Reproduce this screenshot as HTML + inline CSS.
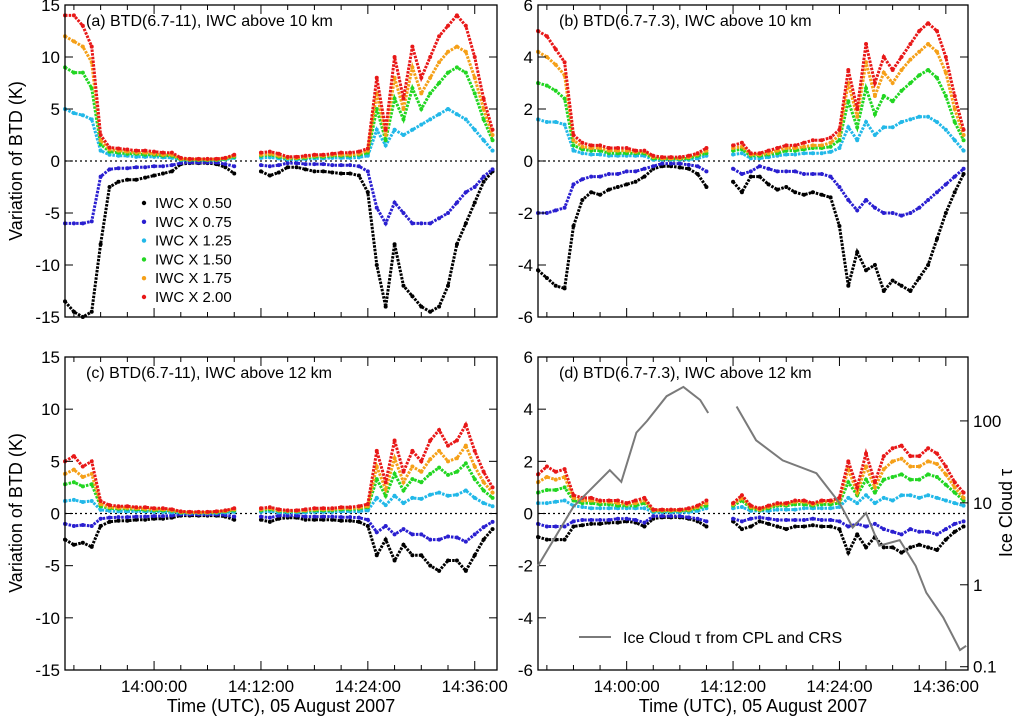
<!DOCTYPE html>
<html><head><meta charset="utf-8"><style>
body{margin:0;background:#fff;}
svg{display:block;font-family:"Liberation Sans",sans-serif;}
</style></head><body>
<svg id="fig" width="1024" height="720"></svg>
<script>
// time in minutes after 13:50 UTC
const timesSeg1=[0,1,2,3,4,5,6,7,8,9,10,11,12,13,14,15,16,17,18,19];
const timesSeg2=[22,23,24,25,26,27,28,29,30,31,32,33,34,35,36,37,38,39,40,41,42,43,44,45,46,47,48];
const seriesNames=["IWC X 0.50","IWC X 0.75","IWC X 1.25","IWC X 1.50","IWC X 1.75","IWC X 2.00"];
const a_black=[-13.5,-14.5,-15,-14.5,-8,-2.5,-2,-1.8,-1.8,-1.6,-1.4,-1.2,-1.0,-0.3,-0.2,-0.2,-0.2,-0.3,-0.6,-1.2,-1.0,-1.4,-1.1,-0.6,-0.6,-0.8,-1.0,-1.0,-1.1,-1.2,-1.2,-1.4,-3,-10,-14,-8,-12,-13,-14,-14.5,-14,-12,-8,-6,-4,-2,-1];
const a_blue=[-6,-6,-6,-5.8,-1.5,-0.8,-0.7,-0.7,-0.6,-0.6,-0.5,-0.5,-0.4,-0.2,-0.15,-0.15,-0.15,-0.15,-0.3,-0.5,-0.4,-0.5,-0.4,-0.2,-0.2,-0.3,-0.3,-0.3,-0.4,-0.4,-0.4,-0.5,-1,-4.5,-6,-4,-5,-6,-6,-6,-5.5,-5,-4,-3,-2.5,-1.5,-0.8];
const a_cyan=[5,4.6,4.4,4,1,0.6,0.5,0.5,0.4,0.4,0.4,0.35,0.3,0.1,0.1,0.1,0.1,0.1,0.15,0.3,0.3,0.35,0.25,0.15,0.15,0.2,0.25,0.25,0.3,0.3,0.3,0.35,0.5,3,1.5,3,2.5,3,3.5,4,4.5,5,4.5,4,3,2,1];
const a_green=[9,8.5,8.5,7,1.6,0.9,0.8,0.7,0.7,0.6,0.6,0.5,0.5,0.15,0.1,0.1,0.1,0.1,0.2,0.4,0.5,0.6,0.4,0.25,0.25,0.3,0.4,0.4,0.5,0.5,0.5,0.6,0.8,5,2,6,4,7,5,6.5,7.5,8.5,9,8.5,6.5,4,2];
const a_orange=[12,11.5,11,9.5,2,1.1,1.0,0.9,0.8,0.8,0.7,0.6,0.6,0.2,0.15,0.15,0.15,0.15,0.25,0.5,0.6,0.7,0.5,0.3,0.3,0.4,0.5,0.5,0.6,0.6,0.6,0.7,1.0,6.5,2.5,8,5,9,6.5,8,9.5,10.5,11,10.5,8,5,2.5];
const a_red=[14,14,13,11,2.5,1.3,1.2,1.1,1.0,1.0,0.9,0.8,0.8,0.3,0.2,0.2,0.2,0.2,0.3,0.6,0.8,0.9,0.7,0.4,0.4,0.5,0.6,0.6,0.7,0.8,0.8,0.9,1.2,8,3,10,6,11,8,10,12,13,14,13,10,6,3];
const b_black=[-4.2,-4.5,-4.8,-4.9,-2.5,-1.5,-1.2,-1.3,-1.1,-1.0,-0.9,-0.8,-0.6,-0.3,-0.2,-0.2,-0.25,-0.3,-0.5,-1.0,-0.8,-1.2,-0.6,-0.6,-0.9,-1.1,-1.0,-1.2,-1.3,-1.2,-1.3,-1.4,-2.5,-4.8,-3.5,-4.2,-4,-5,-4.6,-4.8,-5,-4.5,-4,-3,-2,-1.2,-0.5];
const b_blue=[-2,-2,-1.9,-1.8,-0.9,-0.7,-0.6,-0.6,-0.5,-0.5,-0.4,-0.4,-0.3,-0.2,-0.1,-0.1,-0.1,-0.15,-0.2,-0.4,-0.3,-0.5,-0.4,-0.2,-0.3,-0.4,-0.4,-0.4,-0.5,-0.5,-0.5,-0.6,-1,-1.5,-1.9,-1.5,-1.8,-2,-2,-2.1,-2,-1.8,-1.5,-1.2,-0.9,-0.6,-0.3];
const b_cyan=[1.6,1.5,1.5,1.4,0.4,0.3,0.25,0.25,0.2,0.2,0.2,0.2,0.2,0.05,0.05,0.05,0.05,0.05,0.1,0.2,0.25,0.3,0.1,0.1,0.15,0.2,0.25,0.25,0.3,0.3,0.3,0.35,0.5,1.3,0.8,1.5,1,1.3,1.3,1.5,1.6,1.7,1.7,1.5,1.2,0.8,0.4];
const b_green=[3,2.9,2.7,2.4,0.6,0.45,0.4,0.4,0.3,0.3,0.3,0.3,0.3,0.1,0.08,0.08,0.08,0.1,0.2,0.3,0.4,0.45,0.2,0.2,0.25,0.3,0.4,0.4,0.45,0.5,0.5,0.55,0.8,2.3,1.3,2.8,1.8,2.5,2.3,2.7,3,3.3,3.5,3.2,2.5,1.5,0.8];
const b_orange=[4.2,4,3.7,3.3,0.8,0.55,0.5,0.5,0.4,0.4,0.4,0.35,0.35,0.15,0.1,0.1,0.1,0.15,0.25,0.4,0.5,0.55,0.25,0.25,0.3,0.4,0.5,0.5,0.55,0.6,0.6,0.7,1.0,3,1.7,3.8,2.5,3.4,3,3.5,3.9,4.2,4.5,4.2,3.4,2,1];
const b_red=[5,4.8,4.3,3.8,1.0,0.7,0.6,0.6,0.5,0.5,0.5,0.4,0.4,0.2,0.15,0.15,0.15,0.2,0.3,0.5,0.6,0.7,0.3,0.3,0.4,0.5,0.6,0.6,0.7,0.8,0.8,0.9,1.2,3.5,2,4.5,3,4,3.5,4,4.5,5,5.3,5,4,2.5,1.2];
const c_black=[-2.5,-3,-2.8,-3.2,-1.2,-0.8,-0.7,-0.7,-0.6,-0.6,-0.5,-0.5,-0.4,-0.2,-0.2,-0.2,-0.2,-0.2,-0.3,-0.6,-0.6,-0.8,-0.5,-0.4,-0.4,-0.6,-0.6,-0.6,-0.6,-0.7,-0.7,-0.8,-1.2,-4,-2.5,-4.5,-3,-4,-4,-5,-5.5,-4.5,-4.5,-5.5,-4,-2.5,-1.5];
const c_blue=[-1,-1.2,-1.1,-1.2,-0.5,-0.4,-0.35,-0.35,-0.3,-0.3,-0.25,-0.25,-0.2,-0.1,-0.1,-0.1,-0.1,-0.1,-0.15,-0.3,-0.3,-0.4,-0.2,-0.2,-0.2,-0.3,-0.3,-0.3,-0.3,-0.35,-0.35,-0.4,-0.6,-1.8,-1.2,-2,-1.5,-2,-2,-2.5,-2.5,-2.2,-2.3,-2.7,-2,-1.3,-0.8];
const c_cyan=[1.2,1.3,1.1,1.2,0.35,0.25,0.2,0.2,0.2,0.2,0.15,0.15,0.1,0.05,0.05,0.05,0.05,0.05,0.1,0.15,0.15,0.2,0.1,0.1,0.1,0.1,0.15,0.15,0.15,0.2,0.2,0.2,0.3,1.5,0.8,1.7,1,1.5,1.4,1.8,2,1.7,1.8,2.2,1.5,1,0.7];
const c_green=[2.8,3,2.6,2.8,0.7,0.5,0.45,0.45,0.4,0.35,0.3,0.3,0.25,0.1,0.08,0.08,0.08,0.1,0.2,0.3,0.3,0.4,0.25,0.2,0.2,0.25,0.3,0.3,0.3,0.4,0.4,0.45,0.6,3.3,1.7,3.8,2.2,3.3,3,3.8,4.4,3.7,4,4.8,3.3,2.2,1.5];
const c_orange=[3.8,4.2,3.5,3.8,0.9,0.6,0.55,0.55,0.5,0.45,0.4,0.4,0.3,0.15,0.1,0.1,0.1,0.15,0.25,0.4,0.4,0.5,0.3,0.25,0.25,0.3,0.4,0.4,0.4,0.5,0.5,0.55,0.7,4.5,2.3,5.3,3,4.5,4,5.2,6,5,5.3,6.5,4.5,3,2];
const c_red=[5,5.5,4.5,5,1.2,0.8,0.7,0.7,0.6,0.6,0.5,0.5,0.4,0.2,0.15,0.15,0.15,0.2,0.3,0.5,0.5,0.6,0.4,0.3,0.3,0.4,0.5,0.5,0.5,0.6,0.6,0.7,0.9,6,3,7,4,6,5,7,8,6.5,7,8.5,6,4,2.5];
const d_black=[-0.9,-1.0,-1.0,-1.0,-0.5,-0.45,-0.4,-0.4,-0.35,-0.35,-0.3,-0.35,-0.5,-0.2,-0.15,-0.15,-0.15,-0.2,-0.3,-0.5,-0.3,-0.6,-0.5,-0.3,-0.4,-0.5,-0.6,-0.5,-0.5,-0.45,-0.5,-0.5,-0.6,-1.5,-0.8,-1.3,-0.9,-1.3,-1.3,-1.5,-1.3,-1.2,-1.3,-1.4,-1.0,-0.7,-0.5];
const d_blue=[-0.4,-0.5,-0.5,-0.5,-0.3,-0.25,-0.25,-0.25,-0.25,-0.2,-0.2,-0.25,-0.35,-0.1,-0.1,-0.1,-0.1,-0.15,-0.2,-0.3,-0.2,-0.3,-0.2,-0.15,-0.2,-0.25,-0.25,-0.25,-0.25,-0.2,-0.25,-0.25,-0.3,-0.5,-0.4,-0.5,-0.4,-0.6,-0.7,-0.8,-0.6,-0.7,-0.7,-0.8,-0.6,-0.4,-0.3];
const d_cyan=[0.4,0.4,0.45,0.5,0.3,0.25,0.2,0.2,0.2,0.2,0.2,0.2,0.2,0.05,0.05,0.05,0.05,0.05,0.1,0.2,0.2,0.25,0.1,0.1,0.1,0.15,0.15,0.15,0.2,0.2,0.2,0.2,0.25,0.6,0.4,0.7,0.4,0.6,0.5,0.7,0.7,0.6,0.7,0.6,0.5,0.4,0.3];
const d_green=[0.8,0.9,0.9,1,0.5,0.4,0.4,0.35,0.35,0.3,0.3,0.3,0.4,0.1,0.1,0.1,0.1,0.12,0.2,0.3,0.3,0.5,0.2,0.12,0.2,0.3,0.3,0.35,0.35,0.3,0.35,0.35,0.4,1.2,0.7,1.3,0.8,1.3,1.4,1.5,1.3,1.3,1.5,1.4,1.1,0.8,0.5];
const d_orange=[1.2,1.4,1.3,1.4,0.6,0.5,0.5,0.45,0.45,0.4,0.35,0.4,0.5,0.12,0.12,0.12,0.12,0.15,0.25,0.4,0.35,0.6,0.25,0.15,0.25,0.35,0.35,0.45,0.45,0.35,0.45,0.45,0.5,1.7,0.8,1.8,1,1.7,2,2.1,1.8,1.8,2,1.9,1.5,1,0.6];
const d_red=[1.5,1.8,1.6,1.7,0.7,0.6,0.6,0.5,0.5,0.5,0.4,0.5,0.6,0.15,0.15,0.15,0.15,0.2,0.3,0.5,0.4,0.7,0.3,0.2,0.3,0.4,0.4,0.5,0.5,0.4,0.5,0.5,0.6,2,1,2.3,1.2,2.2,2.5,2.6,2.2,2.2,2.5,2.3,1.8,1.2,0.8];
const tauTimes1=[0,4,8.1,9.4,11.1,12.3,14.5,16.4,18.3,19.2];
const tauValues1=[1.7,9,25,18,72,100,200,260,180,125];
const tauTimes2=[22.4,24.6,27.6,31.4,34,35.5,37,38.5,40.8,42.6,43.8,45.7,47.6,48.3];
const tauValues2=[150,58,33,23,10,5,7.5,3,3.5,1.7,0.8,0.4,0.16,0.18];
const xTickLabels=["14:00:00","14:12:00","14:24:00","14:36:00"];
const xTickMinutes=[10,22,34,46];
const ticksBig=[-15,-10,-5,0,5,10,15];
const ticksSmall=[-6,-4,-2,0,2,4,6];
const tauTicks=[0.1,1,10,100];
const tauTickLabels=["0.1","1","10","100"];

const NS="http://www.w3.org/2000/svg";
const svg=document.getElementById('fig');
const colors=["#000000","#2a1fd0","#22b8e8","#22d622","#f5a018","#e81818"];
function mk(tag,attrs,parent){const e=document.createElementNS(NS,tag);for(const k in attrs)e.setAttribute(k,attrs[k]);(parent||svg).appendChild(e);return e;}
const panels=[
 {id:"a",L:65,R:497,T:5,B:317,yr:[-15,15],ticks:ticksBig,data:[a_black,a_blue,a_cyan,a_green,a_orange,a_red],title:"(a) BTD(6.7-11), IWC above 10 km",xl:false},
 {id:"b",L:538,R:968,T:5,B:317,yr:[-6,6],ticks:ticksSmall,data:[b_black,b_blue,b_cyan,b_green,b_orange,b_red],title:"(b) BTD(6.7-7.3), IWC above 10 km",xl:false},
 {id:"c",L:65,R:497,T:357,B:670,yr:[-15,15],ticks:ticksBig,data:[c_black,c_blue,c_cyan,c_green,c_orange,c_red],title:"(c) BTD(6.7-11), IWC above 12 km",xl:true},
 {id:"d",L:538,R:968,T:357,B:670,yr:[-6,6],ticks:ticksSmall,data:[d_black,d_blue,d_cyan,d_green,d_orange,d_red],title:"(d) BTD(6.7-7.3), IWC above 12 km",xl:true}
];
const XMAX=48.5;
panels.forEach(p=>{
  const g=mk('g',{});
  
  
  const X=m=>p.L+(p.R-p.L)*m/XMAX;
  const Y=v=>p.B-(p.B-p.T)*(v-p.yr[0])/(p.yr[1]-p.yr[0]);
  const z=mk('line',{x1:p.L,x2:p.R,y1:Y(0),y2:Y(0),stroke:'#000','stroke-width':1.2,'stroke-dasharray':'2,3'},g);
  
  
  p.data.forEach((arr,si)=>{
    const sg=mk('g',{fill:colors[si]},g);
    
    
    [timesSeg1,timesSeg2].forEach((ts,k)=>{
      const off=k?timesSeg1.length:0;
      const pts=ts.map((t,i)=>X(t).toFixed(1)+','+Y(arr[off+i]).toFixed(1)).join(' ');
      const pl=mk('polyline',{points:pts,fill:'none',stroke:colors[si],'stroke-width':3,'stroke-dasharray':'2.5,1.2'},sg);
      
      
      ts.forEach((t,i)=>{
        const c=mk('circle',{cx:X(t),cy:Y(arr[off+i]),r:2},sg);
        
        
      });
    });
  });
  const fr=mk('rect',{x:p.L,y:p.T,width:p.R-p.L,height:p.B-p.T,fill:'none',stroke:'#000','stroke-width':1.3},g);
  
  
  for(let m=1;m<=XMAX;m+=3){
    const major=xTickMinutes.indexOf(m)>=0;const len=major?9:5;
    mk('line',{x1:X(m),x2:X(m),y1:p.B,y2:p.B-len,stroke:'#000','stroke-width':1},g);
    mk('line',{x1:X(m),x2:X(m),y1:p.T,y2:p.T+len,stroke:'#000','stroke-width':1},g);
  }
  if(p.xl){xTickMinutes.forEach((m,i)=>{
    const t=mk('text',{x:X(m),y:p.B+22,'text-anchor':'middle','font-size':17},g);t.textContent=xTickLabels[i];
    
    
  });}
  p.ticks.forEach(v=>{
    mk('line',{x1:p.L,x2:p.L+8,y1:Y(v),y2:Y(v),stroke:'#000'},g);
    if(p.id!=='d') mk('line',{x1:p.R,x2:p.R-8,y1:Y(v),y2:Y(v),stroke:'#000'},g);
    const t=mk('text',{x:p.L-5,y:Y(v)+6,'text-anchor':'end','font-size':17},g);t.textContent=v;
    
    
  });
  const tt=mk('text',{x:p.L+21,y:p.T+21,'font-size':16},g);tt.textContent=p.title;
  
  
  if(p.id==='d'){
    const LT=[-1.04,2.78];
    const YT=v=>p.B-(p.B-p.T)*(Math.log10(v)-LT[0])/(LT[1]-LT[0]);
    [[tauTimes1,tauValues1],[tauTimes2,tauValues2]].forEach(([ts,vs])=>{
      const pl=mk('polyline',{points:ts.map((t,i)=>X(t).toFixed(1)+','+YT(vs[i]).toFixed(1)).join(' '),fill:'none',stroke:'#7a7a7a','stroke-width':2},g);
      
      
    });
    tauTicks.forEach((v,i)=>{
      mk('line',{x1:p.R,x2:p.R-8,y1:YT(v),y2:YT(v),stroke:'#000'},g);
      const t=mk('text',{x:p.R+5,y:YT(v)+6,'font-size':17},g);t.textContent=tauTickLabels[i];
      
      
    });
    const ll=mk('line',{x1:579,x2:611,y1:637,y2:637,stroke:'#7a7a7a','stroke-width':2},g);
    
    
    const lt=mk('text',{x:623,y:643,'font-size':16},g);lt.textContent='Ice Cloud \u03c4 from CPL and CRS';
    
    
  }
});
seriesNames.forEach((n,i)=>{
  const y=203+i*18.8;
  const c=mk('circle',{cx:144,cy:y,r:2.2,fill:colors[i]});
  
  
  const t=mk('text',{x:155,y:y+5,'font-size':15});t.textContent=n;
  
  
});
[161,513].forEach(cy=>{
  const t=mk('text',{x:0,y:0,'font-size':18,'text-anchor':'middle',transform:`translate(22,${cy}) rotate(-90)`});t.textContent='Variation of BTD (K)';
  
  
});
[281,753].forEach(cx=>{
  const t=mk('text',{x:cx,y:712,'font-size':18,'text-anchor':'middle'});t.textContent='Time (UTC), 05 August 2007';
  
  
});
const rt=mk('text',{x:0,y:0,'font-size':18,'text-anchor':'middle',transform:'translate(1012,513) rotate(-90)'});rt.textContent='Ice Cloud \u03c4';


</script>
</body></html>
